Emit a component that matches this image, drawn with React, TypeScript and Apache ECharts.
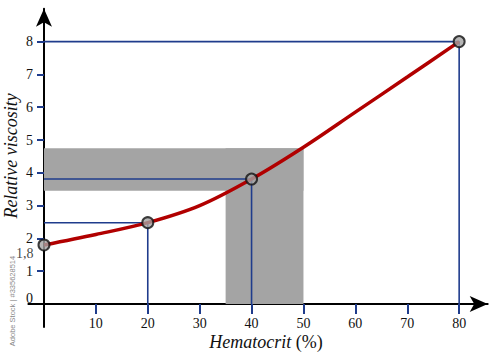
import React, { useEffect, useRef } from "react";
import * as echarts from "echarts";

const hematocrit = [0, 10, 20, 30, 40, 50, 60, 70, 80];
const viscosity = [1.8, 2.12, 2.48, 3.0, 3.81, 4.78, 5.85, 6.92, 8.0];
const markedX = [0, 20, 40, 80];
const markedY = [1.8, 2.48, 3.81, 8.0];
const xTickValues = [10, 20, 30, 40, 50, 60, 70, 80];
const yLabelValues = [0, 1, 2, 3, 4, 5, 6, 7, 8];
const yTickValues = [1, 2, 3, 4, 5, 6, 7, 8];
const bandX = [35, 50];
const bandY = [3.45, 4.75];

const NAVY = "#1f3c8c";
const RED = "#b10000";
const GRAY = "#a4a4a4";
const FONT = "Liberation Serif";

export default function App() {
  const ref = useRef<HTMLDivElement>(null);
  useEffect(() => {
    if (!ref.current) return;
    const chart = echarts.init(ref.current, undefined, { renderer: "svg" });

    const guideSeries = markedX
      .map((x, i) => ({ x, y: markedY[i] }))
      .filter((p) => p.x !== 0)
      .map((p) => ({
        type: "line",
        data: [
          [0, p.y],
          [p.x, p.y],
          [p.x, 0],
        ],
        symbol: "none",
        lineStyle: { color: NAVY, width: 1.6 },
        silent: true,
        z: 3,
      }));

    chart.setOption({
      animation: false,
      grid: {
        left: 28.4,
        right: 12.3,
        top: 8.8,
        bottom: 28,
        containLabel: false,
        outerBoundsMode: "none",
      },
      xAxis: {
        type: "value",
        min: -3,
        max: 85.5,
        splitLine: { show: false },
        axisLine: {
          onZero: true,
          symbol: ["none", "arrow"],
          symbolSize: [12, 18],
          lineStyle: { color: "#000", width: 2 },
        },
        axisTick: {
          show: true,
          customValues: xTickValues,
          length: 10,
          lineStyle: { color: NAVY, width: 2 },
        },
        axisLabel: {
          customValues: xTickValues,
          margin: -11,
          fontFamily: FONT,
          fontSize: 14,
          color: "#111",
        },
        name: "{i|Hematocrit} (%)",
        nameLocation: "middle",
        nameGap: 6,
        nameMoveOverlap: false,
        nameTextStyle: {
          fontFamily: FONT,
          fontSize: 18,
          color: "#111",
          padding: [0, 0, 0, 16],
          rich: {
            i: { fontFamily: FONT, fontSize: 18, fontStyle: "italic", color: "#111" },
          },
        },
      },
      yAxis: {
        type: "value",
        min: -0.7,
        max: 9,
        splitLine: { show: false },
        axisLine: {
          onZero: true,
          symbol: ["none", "arrow"],
          symbolSize: [12, 18],
          lineStyle: { color: "#000", width: 2 },
        },
        axisTick: {
          show: true,
          customValues: yTickValues,
          length: 7,
          lineStyle: { color: NAVY, width: 2 },
        },
        axisLabel: {
          customValues: yLabelValues,
          margin: -4.6,
          fontFamily: FONT,
          fontSize: 14,
          color: "#111",
          formatter: (v: number) => (v === 0 ? "{z|0}" : String(v)),
          rich: {
            z: { fontFamily: FONT, fontSize: 14, color: "#111", padding: [0, 0, 12, 0] },
          },
        },
        name: "Relative viscosity",
        nameLocation: "middle",
        nameGap: 8,
        nameMoveOverlap: false,
        nameTextStyle: {
          fontFamily: FONT,
          fontSize: 18,
          fontStyle: "italic",
          color: "#111",
          padding: [0, 0, 0, 24],
        },
      },
      graphic: [
        {
          type: "text",
          x: 12,
          y: 301,
          rotation: Math.PI / 2,
          style: {
            text: "Adobe Stock | #335628514",
            fontFamily: "Liberation Sans",
            fontSize: 7.5,
            fill: "#8a8a8a",
            align: "center",
            verticalAlign: "middle",
          },
        },
      ],
      series: [
        {
          type: "line",
          data: [],
          silent: true,
          z: 1,
          markArea: {
            silent: true,
            itemStyle: { color: GRAY, opacity: 1 },
            data: [
              [
                { xAxis: 0, yAxis: bandY[0] },
                { xAxis: bandX[1], yAxis: bandY[1] },
              ],
              [
                { xAxis: bandX[0], yAxis: 0 },
                { xAxis: bandX[1], yAxis: bandY[1] },
              ],
            ],
          },
        },
        ...guideSeries,
        {
          type: "line",
          data: hematocrit.map((x, i) => [x, viscosity[i]]),
          smooth: 0.35,
          symbol: "none",
          lineStyle: { color: RED, width: 3.5 },
          z: 4,
        },
        {
          type: "scatter",
          data: markedX.map((x, i) => [x, markedY[i]]),
          symbolSize: 11,
          itemStyle: { color: GRAY, borderColor: "#111", borderWidth: 2 },
          z: 5,
          label: {
            show: true,
            formatter: (p: any) => (p.dataIndex === 0 ? "1,8" : ""),
            position: "left",
            offset: [0, 9],
            distance: 4,
            fontFamily: FONT,
            fontSize: 14,
            color: "#111",
            textBorderWidth: 0,
          },
        },
      ],
    });
    return () => chart.dispose();
  }, []);
  return (
    <div
      ref={ref}
      style={{ position: "absolute", left: 0, top: 0, width: 500, height: 355, background: "#fff" }}
    />
  );
}
